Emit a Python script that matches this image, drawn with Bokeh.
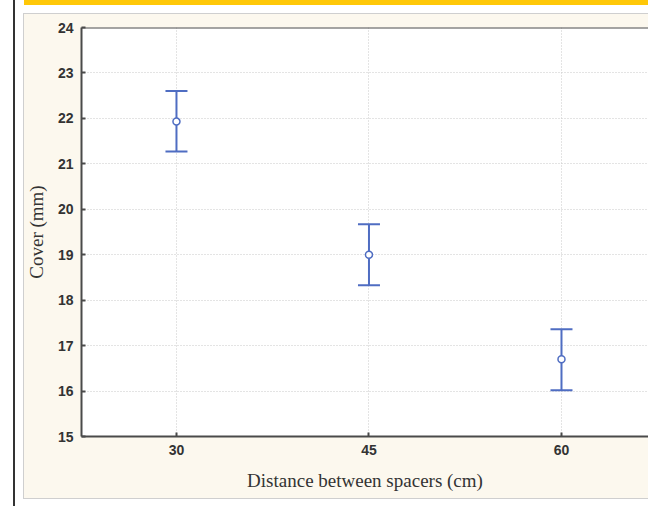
from bokeh.plotting import figure
from bokeh.models import (Range1d, FixedTicker, Whisker, TeeHead,
                          ColumnDataSource, Span)
from bokeh.embed import file_html
from bokeh.resources import INLINE

# data
distances = [30, 45, 60]
means = [21.93, 19.0, 16.70]
upper = [22.60, 19.67, 17.36]
lower = [21.27, 18.33, 16.02]
x_ticks = [30, 45, 60]
y_ticks = list(range(15, 25))

BLUE = "#4f6dc2"
CREAM = "#fcf8ee"
AXIS = "#4a4a4a"
TXT = "#333333"

src = ColumnDataSource(dict(x=distances, m=means, up=upper, lo=lower))

p = figure(width=648, height=506, output_backend="svg", toolbar_location=None,
           x_range=Range1d(22.60, 66.78), y_range=Range1d(15, 24),
           min_border_left=81, min_border_top=27, min_border_bottom=70,
           min_border_right=0)
p.border_fill_alpha = 0
p.background_fill_color = "white"
p.outline_line_color = None

# page decorations (yellow band, black rule, cream panel with grey border)
p.styles = {
    "background": (
        "linear-gradient(#333333,#333333) 13px 0px / 2px 100% no-repeat, "
        "linear-gradient(#ffc808,#ffc808) 24px 0px / 624px 5px no-repeat, "
        f"linear-gradient({CREAM},{CREAM}) 24px 14px / 624px 484px no-repeat, "
        "linear-gradient(#cfcfcf,#cfcfcf) 23px 13px / 625px 486px no-repeat, "
        "#ffffff"
    )
}

for ax, ticks in ((p.xaxis[0], x_ticks), (p.yaxis[0], y_ticks)):
    ax.ticker = FixedTicker(ticks=ticks)
    ax.axis_line_color = AXIS
    ax.axis_line_width = 2
    ax.major_tick_in = 4
    ax.major_tick_out = 0
    ax.major_tick_line_color = AXIS
    ax.major_tick_line_width = 2
    ax.minor_tick_line_color = None
    ax.major_label_text_font = "Liberation Sans"
    ax.major_label_text_font_style = "bold"
    ax.major_label_text_font_size = "14px"
    ax.major_label_text_color = TXT
    ax.axis_label_text_font = "Liberation Serif"
    ax.axis_label_text_font_style = "normal"
    ax.axis_label_text_font_size = "19px"
    ax.axis_label_text_color = TXT

p.xaxis.axis_label = "Distance between spacers (cm)"
p.yaxis.axis_label = "Cover (mm)"
p.xaxis.major_label_standoff = 8
p.xaxis.axis_label_standoff = 12
p.yaxis.major_label_standoff = 8
p.yaxis.axis_label_standoff = 8

p.add_layout(Span(location=24, dimension="width", line_color=AXIS, line_width=2))

for g in (p.xgrid[0], p.ygrid[0]):
    g.grid_line_color = "#c8c8c8"
    g.grid_line_dash = "1 2"
    g.grid_line_width = 1
p.xgrid.ticker = FixedTicker(ticks=x_ticks)
p.ygrid.ticker = FixedTicker(ticks=y_ticks)

w = Whisker(base="x", upper="up", lower="lo", source=src, line_color=BLUE,
            line_width=2,
            upper_head=TeeHead(size=22, line_color=BLUE, line_width=2),
            lower_head=TeeHead(size=22, line_color=BLUE, line_width=2))
p.add_layout(w)
p.scatter("x", "m", source=src, size=7, fill_color="white", line_color=BLUE,
          line_width=1.5)

open("out.html", "w").write(file_html(p, INLINE))
